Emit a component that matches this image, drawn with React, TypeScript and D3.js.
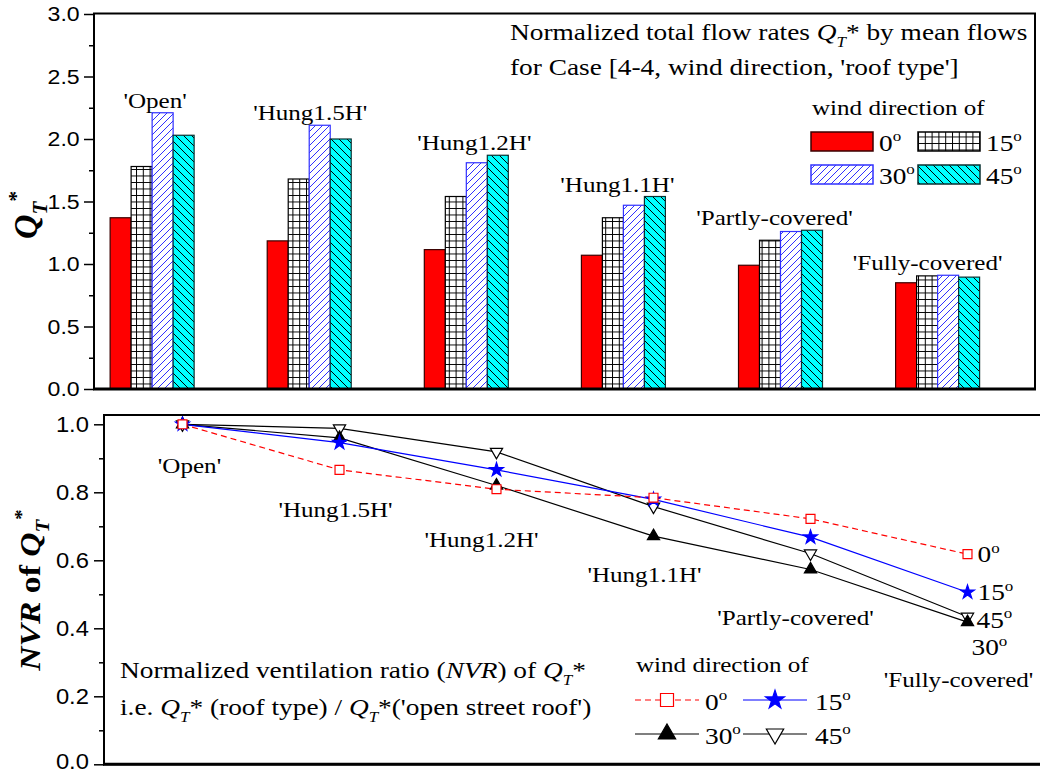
import React, { useEffect, useRef } from 'react';
import * as d3 from 'd3';

// roof types (categories) and wind directions (series)
const roofTypes = ["'Open'", "'Hung1.5H'", "'Hung1.2H'", "'Hung1.1H'", "'Partly-covered'", "'Fully-covered'"];
const windDirs = ['0', '15', '30', '45'];

// normalized total flow rates Q_T*
const flow0 = [1.37, 1.185, 1.115, 1.07, 0.99, 0.85];
const flow15 = [1.78, 1.68, 1.54, 1.37, 1.19, 0.905];
const flow30 = [2.21, 2.11, 1.81, 1.47, 1.26, 0.91];
const flow45 = [2.03, 2.0, 1.87, 1.54, 1.27, 0.895];

// normalized ventilation ratio NVR
const nvr0 = [1.0, 0.866, 0.809, 0.784, 0.722, 0.618];
const nvr15 = [1.0, 0.946, 0.866, 0.779, 0.668, 0.506];
const nvr30 = [1.0, 0.96, 0.82, 0.671, 0.573, 0.418];
const nvr45 = [1.0, 0.988, 0.919, 0.758, 0.62, 0.434];

const flowTicks = [0, 0.5, 1.0, 1.5, 2.0, 2.5, 3.0];
const flowMinor = [0.25, 0.75, 1.25, 1.75, 2.25, 2.75];
const nvrTicks = [0, 0.2, 0.4, 0.6, 0.8, 1.0];
const nvrMinor = [0.1, 0.3, 0.5, 0.7, 0.9];

const W = 1040;
const H = 775;
const SERIF = '"Liberation Serif", "Times New Roman", serif';
const SANS = '"Liberation Sans", Arial, sans-serif';
const SX = 1.14; // the original's lettering is a bit wider than Times

type G = d3.Selection<SVGGElement, unknown, null, undefined>;
type T = d3.Selection<SVGTextElement, unknown, null, undefined>;
type Seg = { t: string; i?: boolean; b?: boolean; sub?: boolean; sup?: boolean };

const label = (g: G, x: number, y: number, size: number, anchor = 'start'): T =>
  g.append('text')
    .attr('transform', `translate(${x},${y}) scale(${SX},1)`)
    .attr('text-anchor', anchor)
    .attr('font-family', SERIF)
    .attr('font-size', size);

// append tspans with sub/superscripts, resetting the baseline after each one
const rich = (text: T, segs: Seg[], size: number) => {
  let shift = 0;
  segs.forEach(s => {
    const target = s.sub ? size * 0.3 : s.sup ? -size * 0.4 : 0;
    text.append('tspan')
      .attr('dy', target - shift)
      .attr('font-size', s.sub || s.sup ? size * 0.62 : size)
      .attr('font-style', s.i ? 'italic' : 'normal')
      .attr('font-weight', s.b ? 'bold' : 'normal')
      .text(s.t);
    shift = target;
  });
};

const deg = (v: string): Seg[] => [{ t: v }, { t: 'o', sup: true }];
const qt = (b = false): Seg[] => [{ t: 'Q', i: true, b }, { t: 'T', i: true, b, sub: true }];

const App: React.FC = () => {
  const svgRef = useRef<SVGSVGElement>(null);

  useEffect(() => {
    if (!svgRef.current) return;
    const svg = d3.select(svgRef.current);
    svg.selectAll('*').remove();

    // patterns
    const defs = svg.append('defs');
    const grid = defs.append('pattern').attr('id', 'grid').attr('patternUnits', 'userSpaceOnUse')
      .attr('width', 6.8).attr('height', 6.5);
    grid.append('rect').attr('width', 6.8).attr('height', 6.5).attr('fill', '#fff');
    grid.append('path').attr('d', 'M0,0.5 H6.8 M0.5,0 V6.5').attr('stroke', '#000').attr('stroke-width', 1);

    const blue = defs.append('pattern').attr('id', 'hatchBlue').attr('patternUnits', 'userSpaceOnUse')
      .attr('width', 7).attr('height', 7);
    blue.append('rect').attr('width', 7).attr('height', 7).attr('fill', '#fff');
    blue.append('path').attr('d', 'M0,7 L7,0 M-1,1 L1,-1 M6,8 L8,6').attr('stroke', '#3030ff').attr('stroke-width', 1);

    const cyan = defs.append('pattern').attr('id', 'hatchCyan').attr('patternUnits', 'userSpaceOnUse')
      .attr('width', 8).attr('height', 8);
    cyan.append('rect').attr('width', 8).attr('height', 8).attr('fill', '#00ffff');
    cyan.append('path').attr('d', 'M0,0 L8,8 M-1,7 L1,9 M7,-1 L9,1').attr('stroke', '#000').attr('stroke-width', 1);

    const barFill = ['#ff0000', 'url(#grid)', 'url(#hatchBlue)', 'url(#hatchCyan)'];
    const barStroke = ['#3a0000', '#000', '#3030ff', '#0a3030'];

    // ---------------- top panel: bars ----------------
    const xTop = d3.scaleLinear().domain([0.63, 6.62]).range([94, 1035]);
    const yTop = d3.scaleLinear().domain([0, 3]).range([389, 14]);
    const inner = d3.scaleBand().domain(windDirs).range([-42, 42]);
    const flows = [flow0, flow15, flow30, flow45];

    const top = svg.append('g');
    flows.forEach((vals, j) => {
      top.selectAll(`.bar${j}`)
        .data(vals)
        .enter().append('rect')
        .attr('x', (d, i) => xTop(i + 1) + (inner(windDirs[j]) || 0))
        .attr('y', d => yTop(d))
        .attr('width', inner.bandwidth())
        .attr('height', d => yTop(0) - yTop(d))
        .attr('fill', barFill[j])
        .attr('stroke', barStroke[j])
        .attr('stroke-width', 1.2);
    });

    // group labels above tallest bar
    const topLabelDx = [3, 1, 8, -6, -6, -10];
    roofTypes.forEach((r, i) => {
      const m = d3.max(flows, f => f[i]) || 0;
      label(top, xTop(i + 1) + topLabelDx[i], yTop(m) - 5, 22, 'middle').text(r);
    });

    // axes
    const axTop = top.append('g').attr('transform', `translate(${xTop.range()[0]},0)`);
    axTop.call(d3.axisLeft(yTop).tickValues(flowTicks).tickSize(10).tickPadding(3).tickFormat(d3.format('.1f')));
    axTop.append('g').call(d3.axisLeft(yTop).tickValues(flowMinor).tickSize(5).tickFormat(() => ''));
    axTop.selectAll('.domain').remove();
    axTop.selectAll('line').attr('stroke', '#000').attr('stroke-width', 1.5);
    axTop.selectAll('text').attr('font-family', SANS).attr('font-size', 21).attr('fill', '#000')
      .attr('transform', 'scale(1.1,1)');

    top.append('rect')
      .attr('x', xTop.range()[0]).attr('y', 13.5)
      .attr('width', xTop.range()[1] - xTop.range()[0]).attr('height', yTop(0) - 13.5)
      .attr('fill', 'none').attr('stroke', '#000').attr('stroke-width', 2);
    top.append('line').attr('x1', xTop.range()[0] - 1).attr('x2', xTop.range()[1] + 1)
      .attr('y1', yTop(0)).attr('y2', yTop(0)).attr('stroke', '#000').attr('stroke-width', 3);

    // annotation
    rich(label(top, 510, 40, 24), [{ t: 'Normalized total flow rates ' }, ...qt(), { t: '* by mean flows' }], 24);
    label(top, 510, 75, 24).text("for Case [4-4, wind direction, 'roof type']");

    // legend
    label(top, 812, 115, 22).text('wind direction of');
    const legPos = [[811, 132], [918, 132], [811, 165], [918, 165]];
    windDirs.forEach((w, j) => {
      top.append('rect').attr('x', legPos[j][0]).attr('y', legPos[j][1]).attr('width', 62).attr('height', 19)
        .attr('fill', barFill[j]).attr('stroke', barStroke[j]).attr('stroke-width', 1.5);
      rich(label(top, legPos[j][0] + 68, legPos[j][1] + 19, 24), deg(w), 24);
    });

    // ---------------- bottom panel: NVR lines ----------------
    const xBot = d3.scaleLinear().domain([0.5, 6.5]).range([104, 1046]);
    const yBot = d3.scaleLinear().domain([0, 1]).range([764.3, 424.3]);
    const nvrs = [nvr0, nvr15, nvr30, nvr45];
    const lineColor = ['#ff0000', '#0000ff', '#000', '#000'];
    const lineDash = ['6,4', null, null, null];
    const sym = [d3.symbolSquare, d3.symbolStar, d3.symbolTriangle, d3.symbolTriangle];
    const symFill = ['#fff', '#0000ff', '#000', '#fff'];
    const symStroke = ['#ff0000', '#0000ff', '#000', '#000'];
    const symRot = [0, 0, 0, 180];
    const symSize = [80, 60, 65, 65];

    const bot = svg.append('g');
    const line = d3.line<number>().x((d, i) => xBot(i + 1)).y(d => yBot(d));
    // draw order: 45, 30, 15, 0 so red dashed sits on top
    [3, 2, 1, 0].forEach(j => {
      bot.append('path').attr('d', line(nvrs[j]) || '')
        .attr('fill', 'none').attr('stroke', lineColor[j]).attr('stroke-width', 1.2)
        .attr('stroke-dasharray', lineDash[j]);
    });
    [3, 2, 1, 0].forEach(j => {
      bot.selectAll(`.pt${j}`)
        .data(nvrs[j])
        .enter().append('path')
        .attr('transform', (d, i) => `translate(${xBot(i + 1)},${yBot(d)}) rotate(${symRot[j]})`)
        .attr('d', d3.symbol().type(sym[j]).size(symSize[j])() || '')
        .attr('fill', symFill[j]).attr('stroke', symStroke[j]).attr('stroke-width', 1.2);
    });

    // category labels under the lines
    const botLabelDx = [7, -4, -15, -9, -15, -9];
    const botLabelDy = [49, 47, 58, 46, 56, 65];
    roofTypes.forEach((r, i) => {
      const m = d3.min(nvrs, f => f[i]) || 0;
      label(bot, xBot(i + 1) + botLabelDx[i], yBot(m) + botLabelDy[i], 22, 'middle').text(r);
    });

    // end-of-line labels
    const endDx = [10, 10, 4, 9];
    const endDy = [8, 8, 33, 11];
    nvrs.forEach((vals, j) => {
      rich(label(bot, xBot(6) + endDx[j], yBot(vals[5]) + endDy[j], 24), deg(windDirs[j]), 24);
    });

    // axes
    const axBot = bot.append('g').attr('transform', `translate(${xBot.range()[0]},0)`);
    axBot.call(d3.axisLeft(yBot).tickValues(nvrTicks).tickSize(10).tickPadding(4).tickFormat(d3.format('.1f')));
    axBot.append('g').call(d3.axisLeft(yBot).tickValues(nvrMinor).tickSize(5).tickFormat(() => ''));
    axBot.selectAll('.domain').remove();
    axBot.selectAll('line').attr('stroke', '#000').attr('stroke-width', 1.5);
    axBot.selectAll('text').attr('font-family', SANS).attr('font-size', 22).attr('fill', '#000')
      .attr('transform', 'scale(1.08,1)');
    axBot.select('.tick text').attr('dy', '0.2em');

    bot.append('rect')
      .attr('x', xBot.range()[0]).attr('y', 415)
      .attr('width', xBot.range()[1] - xBot.range()[0]).attr('height', yBot(0) - 415)
      .attr('fill', 'none').attr('stroke', '#000').attr('stroke-width', 2);
    bot.append('line').attr('x1', xBot.range()[0] - 1).attr('x2', xBot.range()[1])
      .attr('y1', yBot(0)).attr('y2', yBot(0)).attr('stroke', '#000').attr('stroke-width', 3);

    // annotation
    rich(label(bot, 120, 678, 24),
      [{ t: 'Normalized ventilation ratio (' }, { t: 'NVR', i: true }, { t: ') of ' }, ...qt(), { t: '*' }], 24);
    rich(label(bot, 120, 715, 24),
      [{ t: 'i.e. ' }, ...qt(), { t: '* (roof type) / ' }, ...qt(), { t: "*('open street roof')" }], 24);

    // legend
    label(bot, 636, 672, 22).text('wind direction of');
    const legLine = [[635, 700], [743, 700], [635, 734], [743, 734]];
    const legSize = [169, 110, 130, 130];
    windDirs.forEach((w, j) => {
      const [lx, ly] = legLine[j];
      bot.append('line').attr('x1', lx).attr('x2', lx + 64).attr('y1', ly).attr('y2', ly)
        .attr('stroke', lineColor[j]).attr('stroke-width', 1.2).attr('stroke-dasharray', lineDash[j]);
      bot.append('path').attr('transform', `translate(${lx + 32},${ly}) rotate(${symRot[j]})`)
        .attr('d', d3.symbol().type(sym[j]).size(legSize[j])() || '')
        .attr('fill', symFill[j]).attr('stroke', symStroke[j]).attr('stroke-width', 1.2);
      rich(label(bot, lx + (j % 2 ? 72 : 70), ly + 10, 24), deg(w), 24);
    });

    // y axis titles
    const yt1 = svg.append('text').attr('transform', 'translate(37,215) rotate(-90)')
      .attr('text-anchor', 'middle').attr('font-family', SERIF).attr('font-weight', 'bold').attr('font-size', 34);
    rich(yt1, [...qt(true), { t: '*', b: true, sup: true }], 34);
    const yt2 = svg.append('text').attr('transform', 'translate(40,590) rotate(-90) scale(1.12,1)')
      .attr('text-anchor', 'middle').attr('font-family', SERIF).attr('font-weight', 'bold').attr('font-size', 30);
    rich(yt2, [{ t: 'NVR', i: true, b: true }, { t: '\u00a0of\u00a0', b: true }, ...qt(true), { t: '*', b: true, sup: true }], 30);
  }, []);

  return (
    <svg ref={svgRef} width={W} height={H}
      style={{ position: 'absolute', left: 0, top: 0, background: '#fff' }} />
  );
};

export default App;
